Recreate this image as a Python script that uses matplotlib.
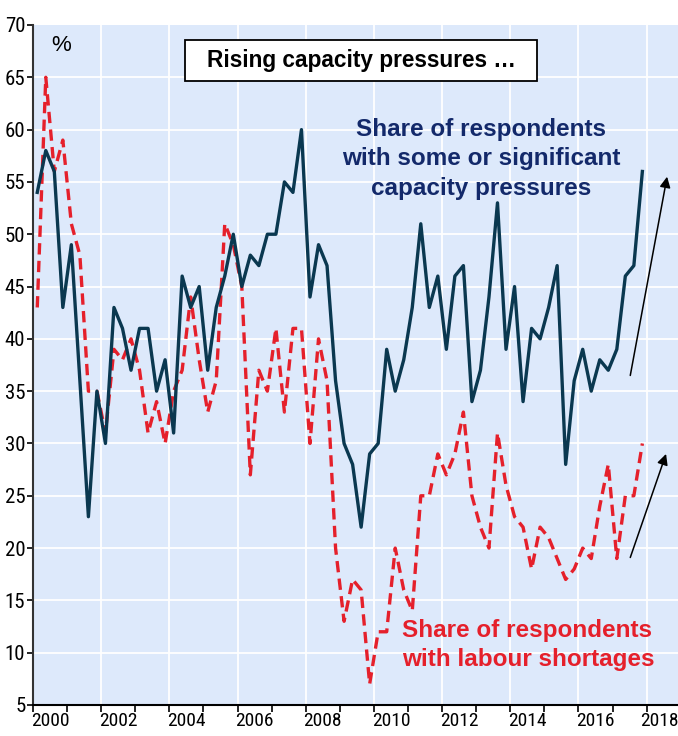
import numpy as np
import pandas as pd
import matplotlib
matplotlib.use('Agg')
import matplotlib.pyplot as plt
from matplotlib import font_manager as fm
from matplotlib.patches import Rectangle

# Quarterly survey data, 2000Q1 - 2017Q4 (%)
quarters = pd.period_range('2000Q1', '2017Q4', freq='Q')

capacity_pressures = [
    54, 58, 56, 43, 49, 36, 23, 35, 30, 43, 41, 37,
    41, 41, 35, 38, 31, 46, 43, 45, 37, 43, 46, 50,
    45, 48, 47, 50, 50, 55, 54, 60, 44, 49, 47, 36,
    30, 28, 22, 29, 30, 39, 35, 38, 43, 51, 43, 46,
    39, 46, 47, 34, 37, 44, 53, 39, 45, 34, 41, 40,
    43, 47, 28, 36, 39, 35, 38, 37, 39, 46, 47, 56,
]
labour_shortages = [
    43, 65, 56, 59, 51, 48, 35, 35, 31, 39, 38, 40,
    37, 31, 34, 30, 35, 37, 44, 38, 33, 36, 51, 49,
    45, 27, 37, 35, 41, 33, 41, 41, 30, 40, 36, 20,
    13, 17, 16, 7, 12, 12, 20, 16, 14, 25, 25, 29,
    27, 29, 33, 25, 22, 20, 31, 26, 23, 22, 18, 22,
    21, 19, 17, 18, 20, 19, 24, 28, 19, 25, 25, 30,
]

y_ticks = list(range(5, 75, 5))
x_years = list(range(2000, 2019))
x_labels = [str(y) for y in range(2000, 2019, 2)]

title_text = 'Rising capacity pressures \u2026'
blue_label = 'Share of respondents\nwith some or significant\ncapacity pressures'
red_label = 'Share of respondents\nwith labour shortages'

# trend arrows: (start, end) in (year, %)
arrow_blue = ((2017.52, 36.5), (2018.60, 55.5))
arrow_red = ((2017.52, 19.1), (2018.57, 29.0))

BG = '#dde9fb'
NAVY_LINE = '#0a3850'
NAVY_TEXT = '#13296a'
RED = '#e5202b'


def pick_narrow_font():
    """Find a condensed sans font if one is installed."""
    prefs = ['Liberation Sans Narrow', 'Arial Narrow', 'Roboto Condensed',
             'Open Sans Condensed', 'Noto Sans Condensed']
    names = {f.name for f in fm.fontManager.ttflist}
    for p in prefs:
        if p in names:
            return dict(family=p)
    for f in fm.fontManager.ttflist:
        if f.stretch in ('condensed', 'semi-condensed') and 'Mono' not in f.name \
                and 'Serif' not in f.name and f.style == 'normal':
            return dict(family=f.name, fontstretch=f.stretch)
    return dict(family='Liberation Sans')


tick_kw = pick_narrow_font()

# decimal year at mid-quarter
x = np.array([p.year + (p.quarter - 1) / 4 + 0.125 for p in quarters])

fig = plt.figure(figsize=(6.78, 7.36), dpi=100)
ax = fig.add_axes([33 / 678, 31 / 736, 645 / 678, 680 / 736])
ax.set_facecolor(BG)

# grid
for yv in y_ticks[1:-1]:
    ax.axhline(yv, color='white', lw=1.3, zorder=1)
for xv in x_years[2::2]:
    ax.axvline(xv, color='white', lw=1.3, zorder=1)

ax.plot(x, labour_shortages, color=RED, lw=2.4, linestyle=(0, (3.4, 1.9)), zorder=3)
ax.plot(x, capacity_pressures, color=NAVY_LINE, lw=2.4, zorder=4)

ax.set_xlim(2000, 2018.92)
ax.set_ylim(5, 70)

ax.set_yticks(y_ticks)
ax.set_yticklabels([str(v) for v in y_ticks], fontsize=15, **tick_kw)
ax.set_xticks(x_years)
ax.set_xticklabels([''] * len(x_years))
label_pos = [int(l) + 0.5 for l in x_labels]
label_pos[-1] = 2018.36  # keep last label inside the figure
ax.set_xticks(label_pos, minor=True)
ax.set_xticklabels(x_labels, minor=True, fontsize=14, **tick_kw)
ax.tick_params(axis='x', which='major', length=5, width=1.2, direction='out')
ax.tick_params(axis='x', which='minor', length=0, pad=5)
ax.tick_params(axis='y', length=4, width=1.2, pad=1.5)

for s in ['top', 'right']:
    ax.spines[s].set_visible(False)
ax.spines['left'].set_color('#333333')
ax.spines['left'].set_linewidth(1.5)
ax.spines['bottom'].set_color('black')
ax.spines['bottom'].set_linewidth(1.5)

ax.text(2000.83, 68.0, '%', fontsize=16, family='Liberation Sans',
        ha='center', va='center')

# title box
ax.add_patch(Rectangle((2004.46, 64.66), 10.33, 3.92, fc='white', ec='black',
                       lw=1.3, zorder=6))
ax.text(2009.63, 66.62, title_text, fontsize=16.3, fontweight='bold',
        family='Liberation Sans', ha='center', va='center', zorder=7)

ax.text(2013.15, 57.2, blue_label, fontsize=17.5, fontweight='bold',
        family='Liberation Sans', color=NAVY_TEXT, ha='center', va='center',
        linespacing=1.36, zorder=6)
ax.text(2010.83, 10.75, red_label, fontsize=17.5, fontweight='bold',
        family='Liberation Sans', color=RED, ha='left', va='center',
        linespacing=1.3, zorder=6)

for (x0, y0), (x1, y1) in [arrow_blue, arrow_red]:
    ax.annotate('', xy=(x1, y1), xytext=(x0, y0),
                arrowprops=dict(arrowstyle='-|>', color='black', lw=1.1,
                                mutation_scale=16, shrinkA=0, shrinkB=0),
                zorder=6)

fig.savefig('out.png', dpi=100, facecolor='white')
